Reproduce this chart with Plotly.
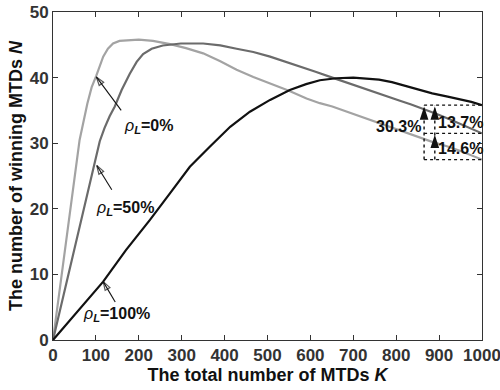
import plotly.graph_objects as go

# ---- data ----
K_light = [0, 30, 62, 80, 90, 101, 110, 117, 128, 140, 155, 170, 200, 233, 273, 310, 350, 390, 428, 467,
           506, 550, 591, 622, 651, 690, 729, 768, 807, 845, 884, 920, 950, 1000]
N_light = [0, 15.0, 30.5, 36.0, 38.5, 40.3, 42.0, 43.2, 44.4, 45.2, 45.6, 45.7, 45.8, 45.6, 45.1, 44.5, 43.7, 42.5, 41.2, 40.1,
           39.1, 38.0, 36.8, 36.1, 35.6, 34.7, 33.8, 32.9, 32.0, 31.1, 30.2, 29.5, 28.8, 27.5]

K_mid = [0, 50, 100, 109, 120, 132, 144, 160, 179, 195, 210, 230, 256, 298, 350, 390, 428, 467, 506, 540,
         574, 612, 651, 690, 729, 768, 807, 835, 865, 893, 923, 960, 1000]
N_mid = [0, 14.0, 28.0, 30.3, 32.3, 34.1, 35.6, 38.1, 40.6, 42.4, 43.6, 44.4, 44.9, 45.2, 45.2, 44.9, 44.4, 43.9, 43.2, 42.5,
         41.7, 40.9, 40.0, 39.1, 38.2, 37.4, 36.5, 35.9, 35.2, 34.5, 33.7, 32.7, 31.5]

K_black = [0, 117, 170, 226, 273, 319, 366, 413, 459, 506, 552, 590, 622, 660, 700, 730, 760, 790, 807,
           845, 884, 920, 950, 975, 1000]
N_black = [0, 8.9, 13.7, 18.3, 22.4, 26.4, 29.5, 32.5, 34.8, 36.6, 38.1, 39.0, 39.6, 39.9, 40.0, 39.9, 39.7, 39.3, 39.0,
           38.3, 37.6, 37.1, 36.7, 36.3, 35.8]

x_ticks = [0, 100, 200, 300, 400, 500, 600, 700, 800, 900, 1000]
y_ticks = [0, 10, 20, 30, 40, 50]

gain_labels = ["30.3%", "13.7%", "14.6%"]
box_x = [865, 890]

rho_texts = ["0%", "50%", "100%"]
rho_pos = [(161, 32.6), (96, 20.0), (65, 3.9)]
rho_arrows = [((159, 35.0), (101, 40.1)), ((137, 22.9), (102, 26.6)), ((145, 5.8), (117, 8.9))]

FONT = "Liberation Sans, Arial, sans-serif"
INK = "#111111"

fig = go.Figure()
for k, n, c in [(K_light, N_light, "#a3a3a3"), (K_mid, N_mid, "#6b6b6b"), (K_black, N_black, INK)]:
    fig.add_trace(go.Scatter(x=k, y=n, mode="lines", line=dict(color=c, width=2.2),
                             showlegend=False, hoverinfo="skip"))

top, mid, bot = N_black[-1], N_mid[-1], N_light[-1]
xmax = x_ticks[-1]
dot = dict(color=INK, width=1.4, dash="dot")
for yv in (top, mid, bot):
    fig.add_shape(type="line", x0=box_x[0], x1=xmax, y0=yv, y1=yv, line=dot)
for xv in box_x:
    fig.add_shape(type="line", x0=xv, x1=xv, y0=bot, y1=top, line=dot)

# filled arrowheads on the dotted lines
fig.add_trace(go.Scatter(x=[box_x[0], box_x[1], box_x[1]], y=[top - 0.2, top - 0.2, mid - 0.2], mode="markers",
                         marker=dict(symbol="arrow", size=14, angle=0, color=INK, line=dict(width=0)),
                         showlegend=False, hoverinfo="skip"))

# rho arrows (line + open arrowhead at the tip)
for (sx, sy), (tx, ty) in rho_arrows:
    fig.add_trace(go.Scatter(x=[sx, tx], y=[sy, ty], mode="lines+markers",
                             line=dict(color=INK, width=1.1),
                             marker=dict(symbol="arrow-open", size=[0, 9], angleref="previous",
                                         color=INK, line=dict(color=INK, width=1.2)),
                             showlegend=False, hoverinfo="skip"))

lab_font = dict(family=FONT, size=16, color=INK)
fig.add_annotation(x=box_x[0] - 3, y=32.6, text="<b>%s</b>" % gain_labels[0], showarrow=False,
                   xanchor="right", yanchor="middle", font=lab_font)
fig.add_annotation(x=box_x[1] + 3, y=33.1, text="<b>%s</b>" % gain_labels[1], showarrow=False,
                   xanchor="left", yanchor="middle", font=lab_font)
fig.add_annotation(x=box_x[1] + 3, y=29.2, text="<b>%s</b>" % gain_labels[2], showarrow=False,
                   xanchor="left", yanchor="middle", font=lab_font)

for t, (px, py) in zip(rho_texts, rho_pos):
    fig.add_annotation(x=px, y=py, xanchor="left", yanchor="middle", showarrow=False,
                       text="<i>ρ</i><sub><b><i>L</i></b></sub><b>=%s</b>" % t,
                       font=dict(family=FONT, size=16, color=INK))

axis_common = dict(showline=True, linecolor="#333333", linewidth=1, mirror="ticks", ticks="inside",
                   ticklen=5, tickcolor="#333333", showgrid=False, zeroline=False,
                   ticklabeloverflow="allow", automargin=False,
                   tickfont=dict(family=FONT, size=17, color="#333333"))
fig.update_xaxes(range=[0, 1000], tickvals=x_ticks, ticktext=["<b>%d</b>" % v for v in x_ticks],
                 title=dict(text="<b>The total number of MTDs <i>K</i></b>", font=dict(family=FONT, size=18, color=INK), standoff=0),
                 **axis_common)
fig.update_yaxes(range=[0, 50], tickvals=y_ticks, ticktext=["<b>%d</b>" % v for v in y_ticks],
                 title=dict(text="<b>The number of winning MTDs <i>N</i></b>", font=dict(family=FONT, size=18, color=INK), standoff=2),
                 **axis_common)

fig.update_layout(width=500, height=390, margin=dict(l=53, r=18, t=12, b=50),
                  plot_bgcolor="white", paper_bgcolor="white")

fig.write_html("out.html")
